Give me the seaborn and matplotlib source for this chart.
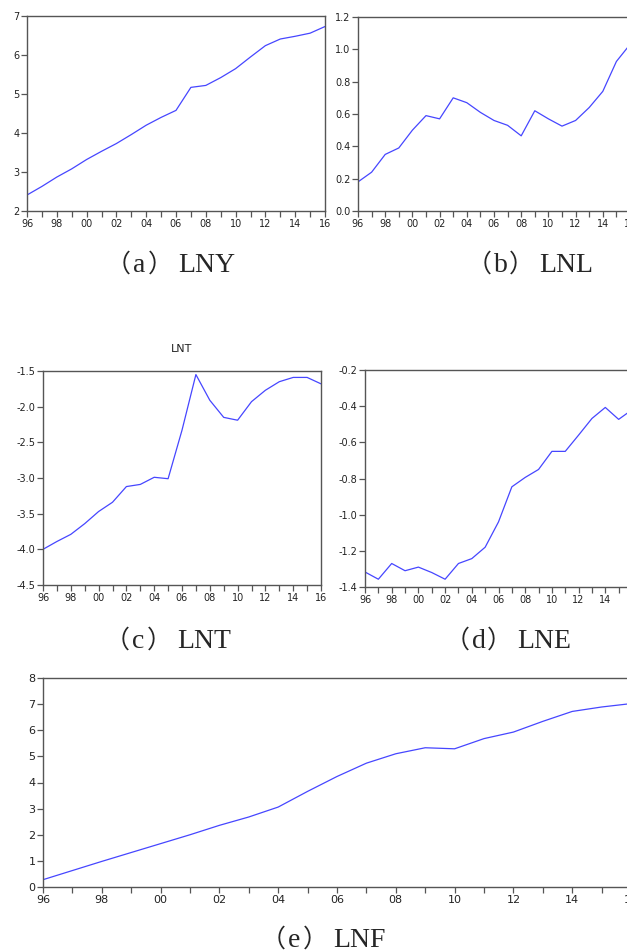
import matplotlib
matplotlib.use("Agg")
import matplotlib.pyplot as plt
import seaborn as sns
import numpy as np
import pandas as pd

years = list(range(1996, 2017))
lny = [2.41, 2.63, 2.87, 3.08, 3.32, 3.53, 3.73, 3.96, 4.20, 4.40, 4.58,
       5.17, 5.22, 5.42, 5.65, 5.95, 6.24, 6.41, 6.48, 6.56, 6.73]
lnl = [0.18, 0.24, 0.35, 0.39, 0.50, 0.59, 0.57, 0.70, 0.67, 0.61, 0.56,
       0.53, 0.465, 0.62, 0.57, 0.525, 0.56, 0.64, 0.74, 0.925, 1.03]
lnt = [-4.00, -3.89, -3.79, -3.64, -3.47, -3.34, -3.12, -3.09, -2.99, -3.01, -2.33,
       -1.55, -1.91, -2.15, -2.19, -1.93, -1.77, -1.65, -1.59, -1.59, -1.68]
lne = [-1.317, -1.357, -1.27, -1.31, -1.29, -1.32, -1.357, -1.27, -1.243, -1.18, -1.04,
       -0.846, -0.794, -0.75, -0.65, -0.65, -0.56, -0.468, -0.407, -0.473, -0.42]
lnf = [0.28, 0.63, 0.98, 1.32, 1.66, 2.00, 2.36, 2.68, 3.06, 3.66, 4.23,
       4.74, 5.10, 5.33, 5.29, 5.68, 5.93, 6.34, 6.72, 6.89, 7.02]

cap_letters = ["a", "b", "c", "d", "e"]
cap_names = ["LNY", "LNL", "LNT", "LNE", "LNF"]

sns.set_style("ticks")
plt.rcParams["font.family"] = ["DejaVu Sans"]
plt.rcParams["axes.unicode_minus"] = False

W, H = 627, 952
fig = plt.figure(figsize=(W / 100, H / 100), dpi=100)

def ax_at(l, r, t, b):
    return fig.add_axes([l / W, 1 - b / H, (r - l) / W, (b - t) / H])

LINE = "#4646ff"
SPINE = "#555555"

def style(ax, yticks, yfmt, fs=7):
    ax.set_xlim(1996, 2016)
    ax.set_xticks(years)
    ax.set_xticklabels([f"{y % 100:02d}" if (y - 1996) % 2 == 0 else "" for y in years])
    ax.set_ylim(yticks[0], yticks[-1])
    ax.set_yticks(yticks)
    ax.set_yticklabels([yfmt.format(v) for v in yticks])
    for s in ax.spines.values():
        s.set_visible(True)
        s.set_color(SPINE)
        s.set_linewidth(1.0)
    ax.tick_params(axis="both", direction="out", length=4, width=0.9, color=SPINE,
                   labelsize=fs, labelcolor="#222222", pad=1.5)
    ax.set_xlabel("")
    ax.set_ylabel("")

panels = [
    ((27, 325, 16, 211), lny, [2, 3, 4, 5, 6, 7], "{:.0f}", 7),
    ((358, 630, 17, 211), lnl, [0.0, 0.2, 0.4, 0.6, 0.8, 1.0, 1.2], "{:.1f}", 7),
    ((43, 321, 371, 585), lnt, [-4.5, -4.0, -3.5, -3.0, -2.5, -2.0, -1.5], "{:.1f}", 7),
    ((365, 632, 370, 587), lne, [-1.4, -1.2, -1.0, -0.8, -0.6, -0.4, -0.2], "{:.1f}", 7),
    ((43, 631, 678, 887), lnf, [0, 1, 2, 3, 4, 5, 6, 7, 8], "{:.0f}", 8),
]

axes = []
for (box, vals, yt, fmt, fs) in panels:
    ax = ax_at(*box)
    df = pd.DataFrame({"year": years, "value": vals})
    sns.lineplot(data=df, x="year", y="value", ax=ax, color=LINE, linewidth=0.9)
    style(ax, yt, fmt, fs=fs)
    axes.append(ax)

axes[2].set_title("LNT", fontsize=8, pad=14, color="#222222")

# captions: CJK parentheses + serif letters, laid out from the reference spacing
CJK = ["Noto Sans CJK SC"]
SERIF = ["Liberation Serif"]

def caption(x0, base_y, letter, name):
    y = 1 - base_y / H
    fig.text((x0 + 10) / W, y, "（", family=CJK, fontsize=18, ha="right", va="baseline")
    fig.text((x0 + 12) / W, y, letter, family=SERIF, fontsize=20, ha="left", va="baseline")
    fig.text((x0 + 27) / W, y, "）", family=CJK, fontsize=18, ha="left", va="baseline")
    fig.text((x0 + 57) / W, y, name, family=SERIF, fontsize=20, ha="left", va="baseline")

cap_pos = [(121, 271.5), (482, 271.5), (120, 648), (460, 648), (276, 947)]
for letter, name, (x, y) in zip(cap_letters, cap_names, cap_pos):
    caption(x, y, letter, name)

fig.savefig("out.png", dpi=100)
